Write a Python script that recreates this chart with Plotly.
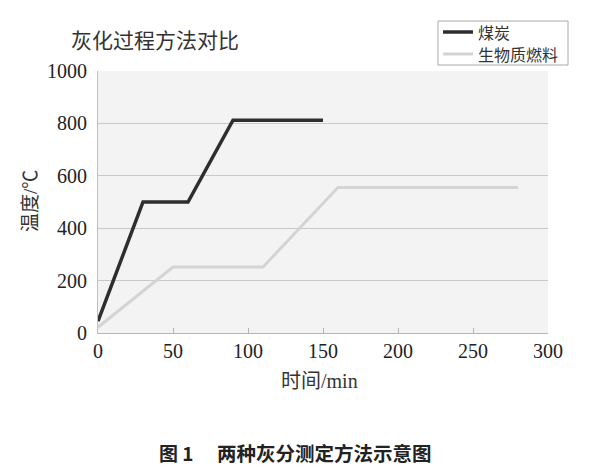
import plotly.graph_objects as go

coal_time = [0, 30, 60, 90, 150]
coal_temp = [45, 500, 500, 812, 812]
bio_time = [0, 50, 110, 160, 280]
bio_temp = [22, 252, 252, 555, 555]

x_ticks = [0, 50, 100, 150, 200, 250, 300]
y_ticks = [0, 200, 400, 600, 800, 1000]

series_names = ["煤炭", "生物质燃料"]
series_colors = ["#2e2e2e", "#d4d4d4"]
series_widths = [3.5, 3]

serif = "Liberation Serif"
cjk = "Noto Sans CJK SC"
mixed = "Liberation Serif, Noto Sans CJK SC"

fig = go.Figure()
fig.add_trace(go.Scatter(x=coal_time, y=coal_temp, mode="lines", name=series_names[0],
                         line=dict(color=series_colors[0], width=series_widths[0]),
                         showlegend=False))
fig.add_trace(go.Scatter(x=bio_time, y=bio_temp, mode="lines", name=series_names[1],
                         line=dict(color=series_colors[1], width=series_widths[1]),
                         showlegend=False))

OFF = 8  # page body margin
W, H = 600, 467
# target plot area on screen: x 98..548, y 71..333
PL, PR, PT, PB = 98, 548, 71, 333
L = PL - OFF
T = PT - OFF
pw, ph = PR - PL, PB - PT
R = W - L - pw
B = H - T - ph

def px(xs):
    return (xs - PL) / pw

def py(ys):
    return (PB - ys) / ph

shapes = [
    dict(type="rect", xref="paper", yref="paper",
         x0=px(438), x1=px(568), y0=py(21), y1=py(65),
         line=dict(color="#a8a8a8", width=1), fillcolor="white", layer="above"),
]
annotations = [
    dict(text="灰化过程方法对比", x=px(69), y=py(39), xref="paper", yref="paper",
         xanchor="left", yanchor="middle", showarrow=False,
         font=dict(family=cjk, size=21, color="#333")),
    dict(text="温度/℃", x=px(30), y=py(201), xref="paper", yref="paper",
         xanchor="center", yanchor="middle", showarrow=False, textangle=-90,
         font=dict(family=mixed, size=19, color="#333")),
    dict(text="时间/min", x=px(319), y=py(381), xref="paper", yref="paper",
         xanchor="center", yanchor="middle", showarrow=False,
         font=dict(family=mixed, size=20, color="#333")),
    dict(text="<b>图 1</b>", x=px(157), y=py(453), xref="paper", yref="paper",
         xanchor="left", yanchor="middle", showarrow=False,
         font=dict(family=cjk, size=19, color="#222")),
    dict(text="<b>两种灰分测定方法示意图</b>", x=px(215), y=py(453),
         xref="paper", yref="paper", xanchor="left", yanchor="middle",
         showarrow=False, font=dict(family=cjk, size=19.5, color="#222")),
]
legend_rows = [32, 54]
for name, color, width, yr in zip(series_names, series_colors, series_widths, legend_rows):
    shapes.append(dict(type="line", xref="paper", yref="paper",
                       x0=px(443), x1=px(473), y0=py(yr), y1=py(yr),
                       line=dict(color=color, width=width), layer="above"))
    annotations.append(dict(text=name, x=px(476), y=py(yr - 0.5), xref="paper", yref="paper",
                            xanchor="left", yanchor="middle", showarrow=False,
                            font=dict(family=cjk, size=16, color="#333")))

fig.update_layout(
    width=W, height=H,
    margin=dict(l=L, r=R, t=T, b=B),
    paper_bgcolor="white",
    plot_bgcolor="#f3f3f3",
    showlegend=False,
    xaxis=dict(range=[0, 300], tickvals=x_ticks, showgrid=False, zeroline=False,
               showline=True, linecolor="#b5b5b5", linewidth=1,
               ticks="inside", ticklen=5, tickcolor="#b5b5b5",
               tickfont=dict(family=serif, size=20, color="#222")),
    yaxis=dict(range=[0, 1000], tickvals=y_ticks, showgrid=True, gridcolor="#c9c9c9",
               gridwidth=1, zeroline=False, showline=True, linecolor="#c0c0c0",
               linewidth=1, ticks="", ticklabelstandoff=6,
               tickfont=dict(family=serif, size=20, color="#222")),
    shapes=shapes,
    annotations=annotations,
)

fig.write_html("out.html")
